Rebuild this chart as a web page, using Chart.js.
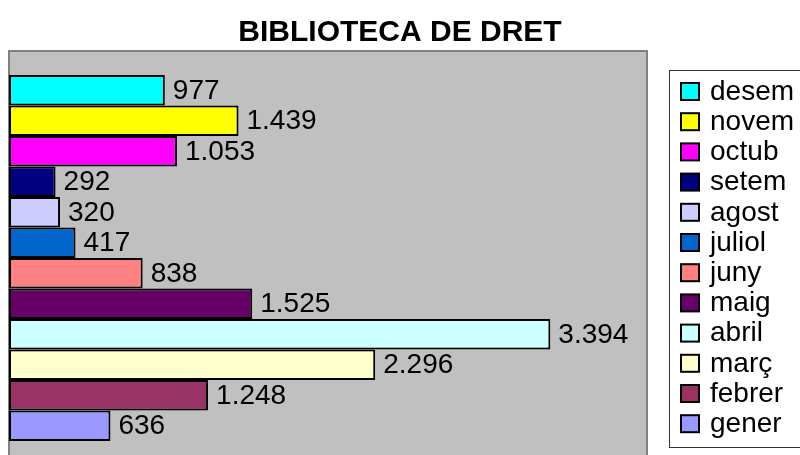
<!DOCTYPE html>
<html>
<head>
<meta charset="utf-8">
<script src="https://cdn.jsdelivr.net/npm/chart.js@4"></script>
<style>
  html, body { margin: 0; padding: 0; background: #fff; overflow: hidden; }
</style>
</head>
<body>
<canvas id="biblio" width="800" height="465"></canvas>
<script>
// months, top to bottom as in the legend
const months = ['desem', 'novem', 'octub', 'setem', 'agost', 'juliol', 'juny', 'maig', 'abril', 'març', 'febrer', 'gener']
const visits = [977, 1439, 1053, 292, 320, 417, 838, 1525, 3394, 2296, 1248, 636]
const colors = ['#00FFFF', '#FFFF00', '#FF00FF', '#000080', '#CCCCFF', '#0066CC',
                '#FF8080', '#660066', '#CCFFFF', '#FFFFCC', '#993366', '#9999FF']

const FONT = "'Liberation Sans', Arial, sans-serif"

// thousands with a dot, like 1.439
function fmt(n) {
    return n.toString().replace(/\B(?=(\d{3})+(?!\d))/g, '.')
}

const datasets = months.map((m, i) => ({
    label: m,
    data: [visits[i]],
    backgroundColor: colors[i],
    borderColor: '#000',
    borderWidth: 2,
    borderSkipped: false,
    categoryPercentage: 0.884,
    barPercentage: 1
}))

// grey plot background + border
const plotBg = {
    id: 'plotBg',
    beforeDraw(chart) {
        const { ctx, chartArea: a } = chart
        ctx.save()
        ctx.fillStyle = '#C0C0C0'
        ctx.fillRect(a.left, a.top, a.right - a.left, a.bottom - a.top)
        ctx.strokeStyle = '#808080'
        ctx.lineWidth = 2
        ctx.strokeRect(a.left, a.top, a.right - a.left, a.bottom - a.top)
        ctx.restore()
    }
}

// numbers at the end of each bar
const valueLabels = {
    id: 'valueLabels',
    afterDatasetsDraw(chart) {
        const ctx = chart.ctx
        ctx.save()
        ctx.font = '28px ' + FONT
        ctx.fillStyle = '#000'
        ctx.textBaseline = 'middle'
        chart.data.datasets.forEach((ds, i) => {
            const bar = chart.getDatasetMeta(i).data[0]
            ctx.fillText(fmt(ds.data[0]), bar.x + 8, bar.y + 1)
        })
        ctx.restore()
    }
}

// boxed legend on the right
const boxLegend = {
    id: 'boxLegend',
    afterDraw(chart) {
        const ctx = chart.ctx
        ctx.save()
        ctx.strokeStyle = '#333'
        ctx.lineWidth = 1
        ctx.strokeRect(669.5, 70.5, 200, 377)
        ctx.font = '28px ' + FONT
        ctx.textBaseline = 'middle'
        chart.data.datasets.forEach((ds, i) => {
            const y = 91 + 30.2 * i
            ctx.fillStyle = ds.backgroundColor
            ctx.fillRect(681, y - 8, 18, 17)
            ctx.strokeStyle = '#000'
            ctx.lineWidth = 2
            ctx.strokeRect(681, y - 8, 18, 17)
            ctx.fillStyle = '#000'
            ctx.fillText(ds.label, 710, y + 1)
        })
        ctx.restore()
    }
}

const ctx = document.getElementById('biblio')
const myChart = new Chart(ctx, {
    type: 'bar',
    data: {
        labels: [''],
        datasets: datasets
    },
    options: {
        indexAxis: 'y',
        responsive: false,
        animation: false,
        layout: { padding: 0 },
        plugins: {
            legend: { display: false },
            tooltip: { enabled: false },
            title: {
                display: true,
                text: 'BIBLIOTECA DE DRET',
                color: '#000',
                font: { family: FONT, size: 30, weight: 'bold' },
                padding: { top: 15, bottom: 0 }
            }
        },
        scales: {
            x: {
                display: false,
                min: 0,
                max: 4000
            },
            y: {
                display: true,
                ticks: { display: false },
                grid: { display: false },
                border: { display: false },
                afterFit: s => { s.width = 9 }
            },
            // spacer that keeps room for the legend
            yr: {
                type: 'linear',
                axis: 'y',
                position: 'right',
                display: true,
                ticks: { display: false },
                grid: { display: false },
                border: { display: false },
                afterFit: s => { s.width = 153 }
            }
        }
    },
    plugins: [plotBg, valueLabels, boxLegend]
})
</script>
</body>
</html>
